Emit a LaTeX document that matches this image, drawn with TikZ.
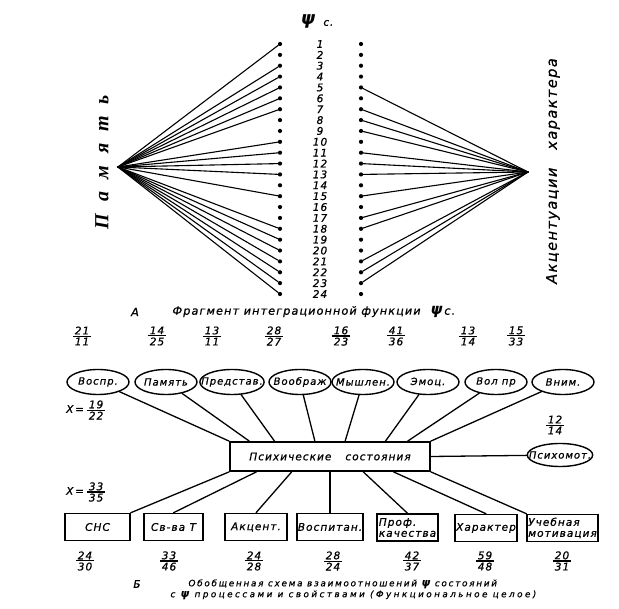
\documentclass[tikz,border=0pt]{standalone}
\usepackage{amsmath}
\usepackage{fontspec}
\setmainfont{DejaVu Sans}[ItalicFont={DejaVu Sans Oblique},BoldFont={DejaVu Sans Bold},BoldItalicFont={DejaVu Sans Bold Oblique},
    LetterSpace=10,ItalicFeatures={FakeBold=0.8}]
\newfontfamily\memfont{Liberation Serif}
\usetikzlibrary{calc}
\usetikzlibrary{shapes.geometric}
\usetikzlibrary{positioning}

\newcommand{\fr}[2]{$\genfrac{}{}{1.1pt}{1}{\hbox{\kern2pt#1\kern2pt}}{\hbox{\kern2pt#2\kern2pt}}$}

\begin{document}
\begin{tikzpicture}[x=1pt, y=-1pt, line cap=round,
    every node/.style={font=\itshape},
    dot/.style={circle, fill, inner sep=0pt, minimum size=4.2pt},
    num/.style={font=\itshape\fontsize{10.5}{11}\selectfont},
    fan/.style={line width=1.1pt},
    oval/.style={ellipse, draw, line width=1.4pt, minimum width=62pt, minimum height=25pt,
        inner xsep=-8pt, inner ysep=0pt, font=\itshape\fontsize{10}{11}\selectfont},
    box/.style={rectangle, draw, line width=1.5pt, minimum width=63pt, minimum height=27pt,
        inner sep=1pt, align=center, font=\itshape\fontsize{10.5}{11}\selectfont},
    link/.style={line width=1.3pt},
    frac/.style={inner sep=0pt, font=\itshape\fontsize{10.5}{11}\selectfont}]
    \useasboundingbox (0,0) rectangle (619,609);

    % Header
    \node (psitop) at (308,21) {\fontsize{18}{18}\selectfont\bfseries ψ};
    \node[anchor=west, font=\itshape\fontsize{10}{10}\selectfont] (ctop) at (320,23) {с.};

    % Columns of dots and numbers
    \foreach \i in {1,...,24} {
        \pgfmathsetmacro\yy{44+(\i-1)*10.87}
        \node[dot] (L\i) at (280,\yy) {};
        \node[num] (N\i) at (320,\yy) {\i};
        \node[dot] (R\i) at (361,\yy) {};
    }

    % Hubs
    \coordinate (mem) at (118,167);
    \coordinate (akc) at (528,172);

    % Fans
    \foreach \i in {1,3,4,5,6,7,10,11,12,13,15,18,19,20,21,22,23,24}
        \draw[fan] (mem) -- (L\i);
    \foreach \i in {5,7,8,9,11,12,13,15,17,18,21,22,23}
        \draw[fan] (akc) -- (R\i);

    % Side labels
    \node[rotate=90, font=\memfont\bfseries\itshape\fontsize{20}{20}\selectfont] (memlab) at (102,162)
        {П\hspace{12pt}а\hspace{12pt}м\hspace{12pt}я\hspace{12pt}т\hspace{12pt}ь};
    \node[rotate=90, font=\itshape\fontsize{14.5}{14}\selectfont] (akclab) at (553,171)
        {Акцентуации\hspace{18pt}характера};

    % Caption A
    \node[font=\itshape\fontsize{11.5}{12}\selectfont] (capa) at (135,312) {А};
    \node[anchor=west, font=\itshape\fontsize{11.2}{12}\selectfont] (capatext) at (169,312)
        {Фрагмент интеграционной функции\hspace{10pt}{\fontsize{15}{15}\selectfont\bfseries ψ}\,с.};

    % Upper fractions
    \node[frac] (fa1) at (82,336) {\fr{21}{11}};
    \node[frac] (fa2) at (157,336) {\fr{14}{25}};
    \node[frac] (fa3) at (212,336) {\fr{13}{11}};
    \node[frac] (fa4) at (274,336) {\fr{28}{27}};
    \node[frac] (fa5) at (341,336) {\fr{16}{23}};
    \node[frac] (fa6) at (396,336) {\fr{41}{36}};
    \node[frac] (fa7) at (468,336) {\fr{13}{14}};
    \node[frac] (fa8) at (516,336) {\fr{15}{33}};

    % Processes
    \node[oval] (vospr) at (98,382) {Воспр.};
    \node[oval] (pamyat) at (166,382) {Память};
    \node[oval] (predst) at (232,382) {Представ.};
    \node[oval] (voobr) at (300,382) {Воображ};
    \node[oval] (myshl) at (363,382) {Мышлен.};
    \node[oval] (emoc) at (428,382) {Эмоц.};
    \node[oval] (volpr) at (496,382) {Вол пр};
    \node[oval] (vnim) at (563,382) {Вним.};
    \node[oval, minimum height=23pt] (psihomot) at (560,455) {Психомот.};

    % States
    \node[box, minimum width=200pt, minimum height=29pt, line width=1.8pt] (sost) at (330,456.5)
        {Психические\hspace{14pt}состояния};

    % Properties
    \node[box, minimum width=65pt] (snc) at (97.5,527) {СНС};
    \node[box, minimum width=59pt] (svt) at (173.5,527) {Св-ва Т};
    \node[box, minimum width=62pt] (akcent) at (256,527) {Акцент.};
    \node[box, minimum width=66pt] (vospit) at (330,527) {Воспитан.};
    \node[box, minimum width=61pt, align=left] (prof) at (407.5,527.5) {Проф.\\качества};
    \node[box, minimum width=62pt] (harakt) at (486,528) {Характер};
    \node[box, minimum width=65pt, align=left] (uchmot) at (562.5,528) {Учебная\\мотивация};

    % Links to processes
    \foreach \e/\f in {vospr/0, pamyat/0.1, predst/0.225, voobr/0.425, myshl/0.575,
                       emoc/0.775, volpr/0.885, vnim/1} {
        \coordinate (top-\e) at ($(sost.north west)!\f!(sost.north east)$);
        \draw[link] (\e) -- (top-\e);
    }
    \draw[link] (sost.east) -- (psihomot);

    % Links to properties
    \foreach \b/\a/\f in {snc/north east/0, svt/north/0.135, akcent/north/0.31, vospit/north/0.5,
                          prof/north/0.665, harakt/north/0.815, uchmot/north west/1} {
        \coordinate (bot-\b) at ($(sost.south west)!\f!(sost.south east)$);
        \draw[link] (bot-\b) -- (\b.\a);
    }

    % Mean values
    \node[anchor=west, frac] (xa) at (66,410) {X\,=\,\fr{19}{22}};
    \node[frac] (fb) at (555,425) {\fr{12}{14}};
    \node[anchor=west, frac] (xb) at (66,492) {X\,=\,\fr{33}{35}};

    % Lower fractions
    \node[frac] (fc1) at (85,561) {\fr{24}{30}};
    \node[frac] (fc2) at (169,561) {\fr{33}{46}};
    \node[frac] (fc3) at (254,561) {\fr{24}{28}};
    \node[frac] (fc4) at (333,561) {\fr{28}{24}};
    \node[frac] (fc5) at (412,561) {\fr{42}{37}};
    \node[frac] (fc6) at (485,561) {\fr{59}{48}};
    \node[frac] (fc7) at (562,561) {\fr{20}{31}};

    % Caption B
    \node[font=\itshape\fontsize{10.5}{11}\selectfont] (capb) at (137,584) {Б};
    \node[anchor=west, font=\itshape\addfontfeatures{LetterSpace=20}\fontsize{8.8}{9}\selectfont] (capbone) at (185,584)
        {Обобщенная схема взаимоотношений {\fontsize{11}{11}\selectfont\bfseries ψ} состояний};
    \node[anchor=west, font=\itshape\addfontfeatures{LetterSpace=28}\fontsize{8.8}{9}\selectfont] (capbtwo) at (167,595)
        {с {\fontsize{11}{11}\selectfont\bfseries ψ} процессами и свойствами (Функциональное целое)};

\end{tikzpicture}
\end{document}
